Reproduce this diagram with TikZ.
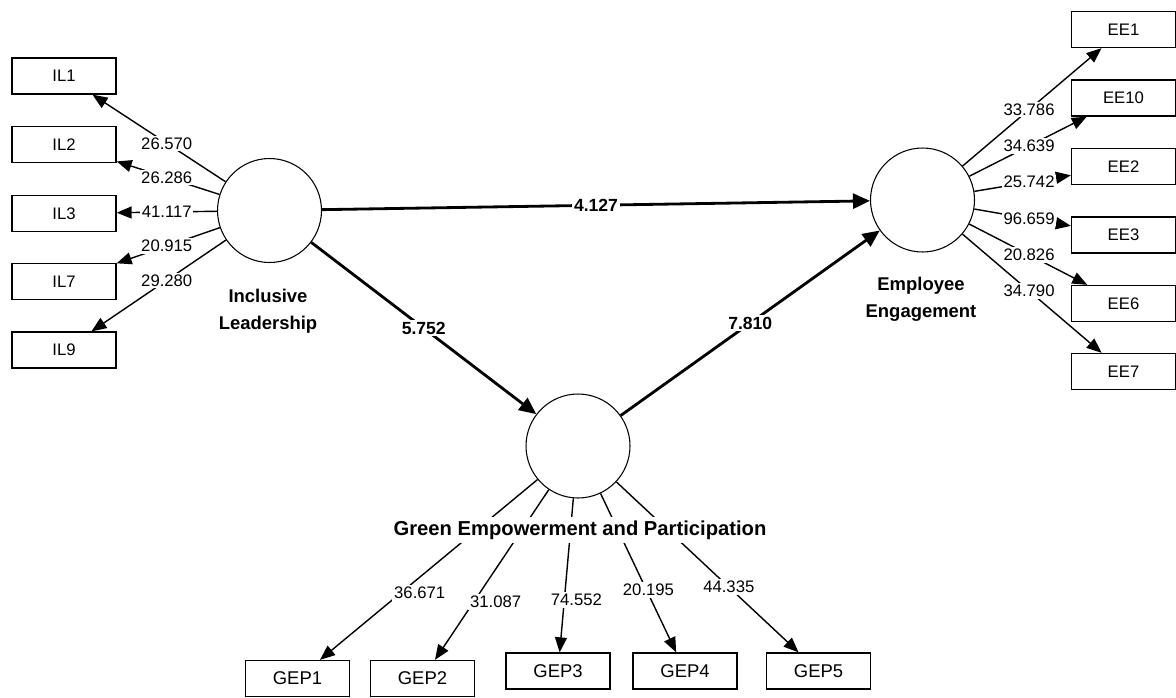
\documentclass[tikz,border=0pt]{standalone}
\usepackage{fontspec}
\setmainfont{Liberation Sans}
\usetikzlibrary{arrows.meta,calc,positioning}

\begin{document}
\begin{tikzpicture}[x=0.02cm, y=-0.02cm,
    ind/.style={draw, line width=0.75pt, minimum width=2.08cm, minimum height=0.72cm, inner sep=0pt, font=\fontsize{9.5}{11}\selectfont},
    lv/.style={draw, circle, line width=0.6pt, minimum size=2.08cm, inner sep=0pt},
    load/.style={line width=0.8pt, -{Triangle[length=0.3cm, width=0.24cm]}},
    path/.style={line width=1.6pt, -{Triangle[length=0.34cm, width=0.3cm]}},
    val/.style={fill=white, inner sep=1pt, font=\fontsize{9.5}{11}\selectfont},
    coef/.style={fill=white, inner sep=1pt, font=\fontsize{10}{12}\bfseries},
    lvname/.style={align=center, font=\fontsize{10.5}{15.3}\selectfont\bfseries}]
\useasboundingbox (0,0) rectangle (1176,697);

% latent variables
\node[lv] (incl) at (269.5,210.5) {};
\node[lv] (engage) at (922.5,200) {};
\node[lv] (green) at (578,446) {};

% indicator boxes
\foreach \n/\y in {1/76,2/144.5,3/213.5,7/281.5,9/350}
  \node[ind] (IL\n) at (64,\y) {IL\n};
\foreach \n/\y in {1/29.5,10/98,2/166.5,3/235,6/303.5,7/371.5}
  \node[ind] (EE\n) at (1123.5,\y) {EE\n};
\foreach \n/\x/\y in {1/297.5/678.5,2/422.5/678.5,3/558/671,4/685/671,5/818.5/671}
  \node[ind, font=\fontsize{10.5}{12}\selectfont] (GEP\n) at (\x,\y) {GEP\n};

% outer loadings
\foreach \n/\v in {1/26.570,2/26.286,3/41.117,7/20.915,9/29.280} {
  \draw[load] (incl) -- (IL\n);
  \node[val] at ($(incl)!0.5!(IL\n)$) {\v};
}
\foreach \n/\v in {1/33.786,10/34.639,2/25.742,3/96.659,6/20.826,7/34.790} {
  \draw[load] (engage) -- (EE\n);
  \node[val] at ($(engage)!0.53!(EE\n)$) {\v};
}
\foreach \n/\v/\t/\s in {1/36.671/0.632/19,2/31.087/0.671/22,3/74.552/0.684/12,4/20.195/0.64/2,5/44.335/0.627/0} {
  \draw[load] (green) -- (GEP\n);
  \node[val, xshift=\s*0.02cm] at ($(green)!\t!(GEP\n)$) {\v};
}

% inner model
\draw[path] (incl) -- (engage) node[coef, pos=0.5] {4.127};
\draw[path] (incl) -- (green) node[coef, pos=0.5] {5.752};
\draw[path] (green) -- (engage) node[coef, pos=0.5] {7.810};

% construct names
\node[lvname] (inclname) at (268,311) {Inclusive\\Leadership};
\node[lvname] (engagename) at (921,299.5) {Employee\\Engagement};
\node[lvname, font=\fontsize{11.5}{14}\selectfont\bfseries, fill=white, inner sep=2pt] (greenname) at (580,530) {Green Empowerment and Participation};
\end{tikzpicture}
\end{document}
